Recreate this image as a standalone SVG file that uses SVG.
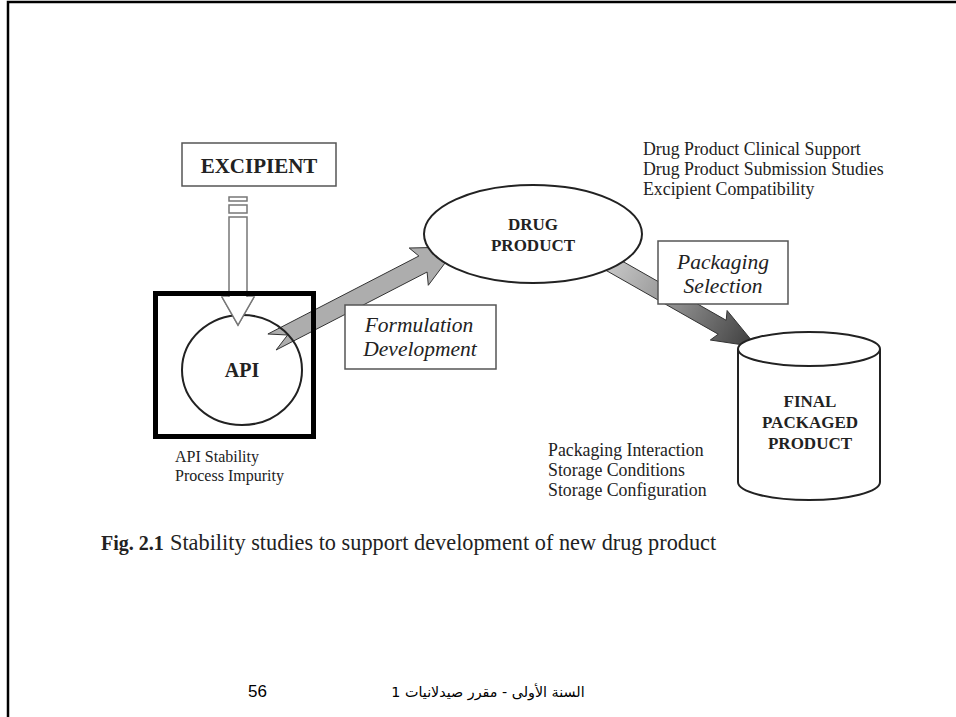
<svg xmlns="http://www.w3.org/2000/svg" width="956" height="717" viewBox="0 0 956 717">
<style>
.serif{font-family:"Liberation Serif","Times New Roman",serif;fill:#222}
.b{font-weight:bold}
.i{font-style:italic}
.box{fill:#fff;stroke:#555;stroke-width:1.5}
.shape{fill:#fff;stroke:#222;stroke-width:2}
</style>
<defs>
<linearGradient id="pk" gradientUnits="userSpaceOnUse" x1="590" y1="252" x2="757" y2="347">
<stop offset="0" stop-color="#d8d8d8"/>
<stop offset="0.55" stop-color="#8a8a8a"/>
<stop offset="1" stop-color="#3a3a3a"/>
</linearGradient>
</defs>
<rect width="956" height="717" fill="#fff"/>
<g id="frame">
<path d="M8,717 L8,2 L956,2" fill="none" stroke="#000" stroke-width="2.5"/>
</g>

<g id="connectors">
<g id="excipient-arrow" fill="#fff" stroke="#777" stroke-width="1.5">
<rect x="229" y="197" width="18" height="4"/>
<rect x="229" y="205" width="18" height="8"/>
<path d="M229,217 L247,217 L247,297 L254,297 L238,325 L222,297 L229,297 Z"/>
</g>
<polygon id="formulation-arrow" points="267.9,334.0 418.9,256.0 409.2,248.0 457,247 428.3,285.3 427.1,272.0 276.1,350.0 287.6,335.0" fill="#adadad" stroke="#333" stroke-width="1"/>
<polygon id="packaging-arrow" points="594,245 726.2,320.3 727.1,310.5 757,347 710.3,340.0 718.2,334.2 586,259 603.9,259.9" fill="url(#pk)" stroke="#333" stroke-width="1"/>
</g>

<g id="excipient">
<rect x="182" y="143" width="154" height="43" class="box"/>
<text x="259" y="173" text-anchor="middle" class="serif b" font-size="21">EXCIPIENT</text>
</g>

<g id="api">
<rect x="155.5" y="293.5" width="158" height="143" fill="none" stroke="#000" stroke-width="5"/>
<ellipse cx="242" cy="370" rx="60" ry="55" fill="none" stroke="#222" stroke-width="2"/>
<path d="M222,297 L238,325 L254,297" fill="#fff" stroke="#777" stroke-width="1.5"/>
<text x="242" y="377" text-anchor="middle" class="serif b" font-size="20">API</text>
<text x="175" y="462" class="serif" font-size="16">API Stability</text>
<text x="175" y="481" class="serif" font-size="16">Process Impurity</text>
</g>

<g id="formulation">
<rect x="345" y="305" width="151" height="64" class="box"/>
<text x="419" y="332" text-anchor="middle" class="serif i" font-size="21.5">Formulation</text>
<text x="420" y="356" text-anchor="middle" class="serif i" font-size="21.5">Development</text>
</g>

<g id="drug-product">
<ellipse cx="533" cy="234" rx="109" ry="49" class="shape"/>
<text x="533" y="230" text-anchor="middle" class="serif b" font-size="17">DRUG</text>
<text x="533" y="251" text-anchor="middle" class="serif b" font-size="17">PRODUCT</text>
<text x="643" y="155" class="serif" font-size="17.8">Drug Product Clinical Support</text>
<text x="643" y="175" class="serif" font-size="17.8">Drug Product Submission Studies</text>
<text x="643" y="195" class="serif" font-size="17.8">Excipient Compatibility</text>
</g>

<g id="packaging-selection">
<rect x="658" y="241" width="130" height="63" class="box"/>
<text x="723" y="269" text-anchor="middle" class="serif i" font-size="21.5">Packaging</text>
<text x="723" y="293" text-anchor="middle" class="serif i" font-size="21.5">Selection</text>
</g>

<g id="final-packaged-product">
<path d="M738,349 L738,482 A71,18 0 0 0 880,482 L880,349" class="shape"/>
<ellipse cx="809" cy="349" rx="71" ry="17" class="shape"/>
<text x="810" y="407" text-anchor="middle" class="serif b" font-size="17">FINAL</text>
<text x="810" y="428" text-anchor="middle" class="serif b" font-size="17">PACKAGED</text>
<text x="810" y="449" text-anchor="middle" class="serif b" font-size="17">PRODUCT</text>
<text x="548" y="456" class="serif" font-size="17.8">Packaging Interaction</text>
<text x="548" y="476" class="serif" font-size="17.8">Storage Conditions</text>
<text x="548" y="496" class="serif" font-size="17.8">Storage Configuration</text>
</g>

<g id="caption">
<text x="101" y="550" class="serif" font-size="22.3"><tspan font-weight="bold" font-size="20">Fig. 2.1</tspan><tspan x="170">Stability studies to support development of new drug product</tspan></text>
</g>

<g id="footer">
<text x="248" y="697" font-family="Liberation Sans, Arial, sans-serif" font-size="17" fill="#000">56</text>
<text x="488" y="697" text-anchor="middle" direction="rtl" unicode-bidi="embed" font-family="DejaVu Sans, Noto Sans, sans-serif" font-size="14.3" fill="#000">السنة الأولى - مقرر صيدلانيات 1</text>
</g>
</svg>
